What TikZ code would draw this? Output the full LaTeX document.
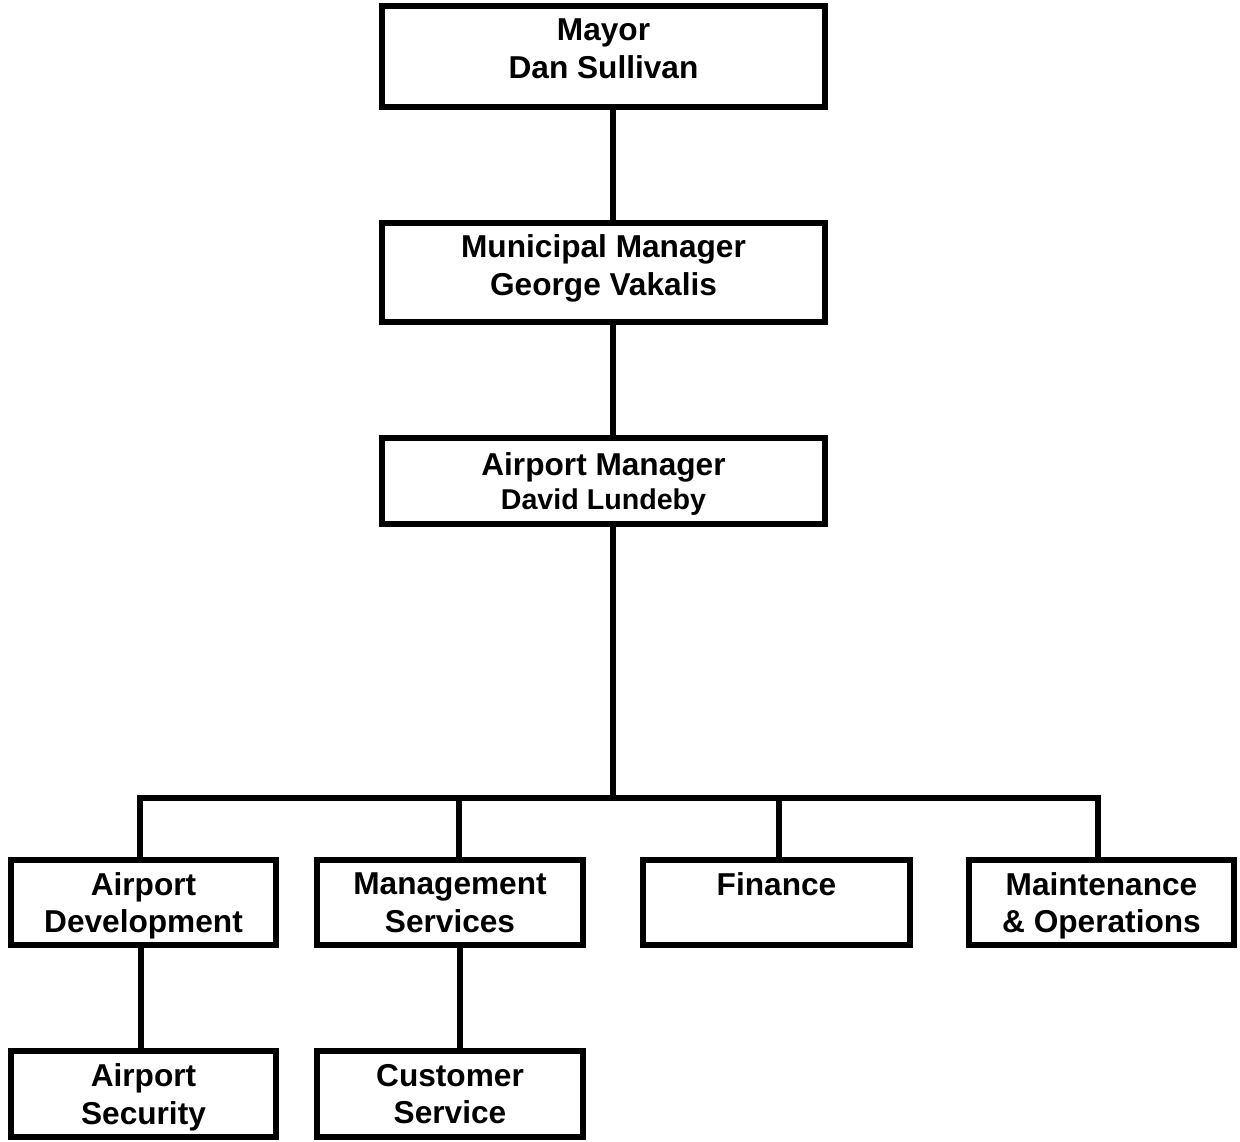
\documentclass[tikz,border=0pt]{standalone}
\usepackage{fontspec}
\setmainfont{Liberation Sans}
\tikzset{
  box/.style={draw, line width=3.3pt, rectangle, align=center,
    font=\bfseries\fontsize{18}{21.5}\selectfont, inner sep=0pt, text depth=0pt},
  link/.style={line width=3.3pt}
}
\begin{document}
\begin{tikzpicture}
      \useasboundingbox (0,0) rectangle (24.8,-22.84);
      \node[box, minimum width=8.86cm, minimum height=2.02cm, text depth=0.3cm]
        (mayor) at (12.07,-1.13) {Mayor\\Dan Sullivan};
      \node[box, minimum width=8.86cm, minimum height=1.98cm, text depth=0.3cm]
        (mm) at (12.07,-5.45) {Municipal Manager\\George Vakalis};
      \node[box, minimum width=8.86cm, minimum height=1.72cm]
        (am) at (12.07,-9.62) {Airport Manager\\[-2.2pt]{\fontsize{16.3}{19}\selectfont David Lundeby}};
      \node[box, minimum width=5.3cm, minimum height=1.7cm]
        (ad) at (2.87,-18.05) {Airport\\Development};
      \node[box, minimum width=5.32cm, minimum height=1.7cm]
        (ms) at (9.0,-18.05) {Management\\Services};
      \node[box, minimum width=5.34cm, minimum height=1.7cm]
        (fin) at (15.53,-18.05) {Finance\\\strut};
      \node[box, minimum width=5.3cm, minimum height=1.7cm]
        (mo) at (22.03,-18.05) {Maintenance\\\& Operations};
      \node[box, minimum width=5.3cm, minimum height=1.72cm]
        (as) at (2.87,-21.88) {Airport\\Security};
      \node[box, minimum width=5.32cm, minimum height=1.72cm]
        (cs) at (9.0,-21.88) {Customer\\Service};
      \coordinate (bus) at (12.26,-15.96);
      \begin{scope}[link]
        \draw ([xshift=0.19cm]mayor.south) to ([xshift=0.19cm]mm.north);
        \draw ([xshift=0.19cm]mm.south) to ([xshift=0.19cm]am.north);
        \draw (am.south -| bus) to (bus);
        \draw ([xshift=-0.07cm]ad.north) |- (bus) -| ([xshift=-0.07cm]mo.north);
        \draw ([xshift=0.18cm]ms.north) to ([xshift=0.18cm]ms.north |- bus);
        \draw ([xshift=0.05cm]fin.north) to ([xshift=0.05cm]fin.north |- bus);
        \draw ([xshift=-0.05cm]ad.south) to ([xshift=-0.05cm]as.north);
        \draw ([xshift=0.2cm]ms.south) to ([xshift=0.2cm]cs.north);
      \end{scope}
    \end{tikzpicture}
\end{document}
